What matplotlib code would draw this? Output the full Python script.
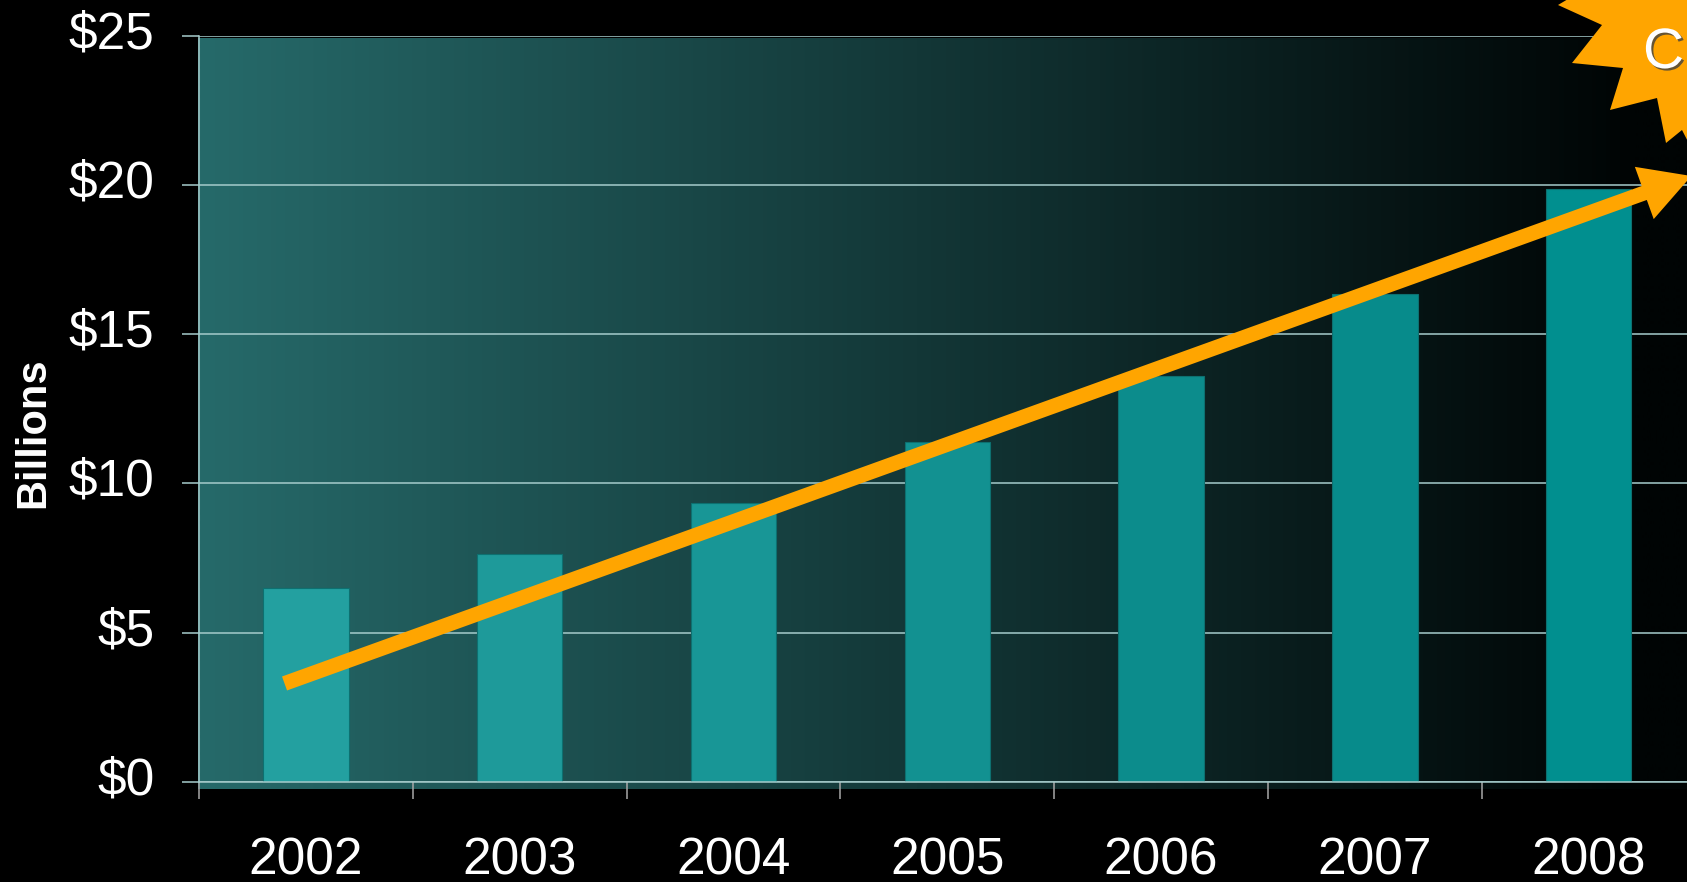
import matplotlib.pyplot as plt
import numpy as np
from matplotlib.patches import Polygon
from matplotlib.transforms import ScaledTranslation
import matplotlib.patheffects as pe

plt.rcParams['font.family'] = ['Liberation Sans', 'DejaVu Sans']

years = ['2002', '2003', '2004', '2005', '2006', '2007', '2008']
revenue = [6.5, 7.65, 9.35, 11.4, 13.6, 16.35, 19.85]   # $ billions
y_ticks = [0, 5, 10, 15, 20, 25]
y_labels = ['$0', '$5', '$10', '$15', '$20', '$25']
trend_start = (-0.1, 3.3)
trend_end = (6.48, 20.3)

bar_colors = ['#23a0a0', '#1e9a9a', '#189696', '#129191', '#0c8c8c', '#078b8b', '#018f8f']
grid_col = '#a6cccc'

W, H = 1687, 882
fig = plt.figure(figsize=(W / 100, H / 100), dpi=100, facecolor='black')
ax = fig.add_axes([199 / W, 100 / H, 1496.6 / W, 746.3 / H])
ax.set_facecolor('black')

x = np.arange(len(years))
ax.set_xlim(-0.5, 6.5)
ax.set_ylim(0, 25)

# teal-to-black gradient wall behind the bars
grad = np.linspace(0, 1, 256)
c0 = np.array([38, 106, 106]) / 255
c1 = np.array([0, 4, 4]) / 255
t = np.clip(grad / 0.96, 0, 1)[None, :, None]
img = c0 * (1 - t) + c1 * t
ax.imshow(img, extent=[-0.505, 6.5, -0.23, 24.9], aspect='auto',
          zorder=0, interpolation='bilinear', clip_on=False)

ax.bar(x, revenue, width=0.4, color=bar_colors, edgecolor='#0d7070',
       linewidth=0.8, zorder=2)

ax.set_axisbelow(True)
ax.yaxis.grid(True, color=grid_col, linewidth=1.1, zorder=1)
ax.set_yticks(y_ticks)
ax.set_yticklabels(y_labels)
ax.tick_params(axis='y', length=12, width=1.1, color=grid_col, pad=20,
               labelsize=37, labelcolor='white')
shift_up = ScaledTranslation(0, 0.065, fig.dpi_scale_trans)
for lab in ax.get_yticklabels():
    lab.set_transform(lab.get_transform() + shift_up)

ax.set_xticks(np.arange(-0.5, 7, 1))
ax.set_xticklabels([])
ax.set_xticks(x, minor=True)
ax.set_xticklabels(years, minor=True)
ax.tick_params(axis='x', which='major', length=12, width=1.1, color='#a8a8a8')
ax.tick_params(axis='x', which='minor', length=0, pad=39,
               labelsize=37, labelcolor='white')

for s in ['top', 'right']:
    ax.spines[s].set_visible(False)
for s in ['left', 'bottom']:
    ax.spines[s].set_color(grid_col)
    ax.spines[s].set_linewidth(1.1)

fig.text(33 / W, 1 - 433 / H, 'Billions', rotation=90, ha='center', va='center',
         fontsize=30, fontweight='bold', color='white')

# trend arrow
ax.annotate('', xy=trend_end, xytext=trend_start, xycoords='data',
            annotation_clip=False,
            arrowprops=dict(arrowstyle='simple,head_length=36,head_width=40,tail_width=10.7',
                            mutation_scale=1, color='#FFA500', lw=0,
                            shrinkA=0, shrinkB=0, clip_on=False, zorder=5))

# starburst callout in the top right corner
star_px = [(1600, -20), (1558, 5), (1602, 25), (1572, 63), (1623, 68), (1610, 110),
           (1657, 98), (1666, 143), (1682, 130), (1700, 165), (1760, 180), (1760, -20)]
star = Polygon([(px / W, 1 - py / H) for px, py in star_px], closed=True,
               transform=fig.transFigure, facecolor='#FFA500', edgecolor='none', zorder=6)
fig.patches.append(star)
fig.text(1643 / W, 1 - 68 / H, 'C', ha='left', va='baseline', fontsize=41, color='white',
         zorder=7, path_effects=[pe.withSimplePatchShadow(offset=(1.5, -1.5),
                                                           shadow_rgbFace='#404040', alpha=0.8)])

fig.savefig('out.png', dpi=100, facecolor='black')
